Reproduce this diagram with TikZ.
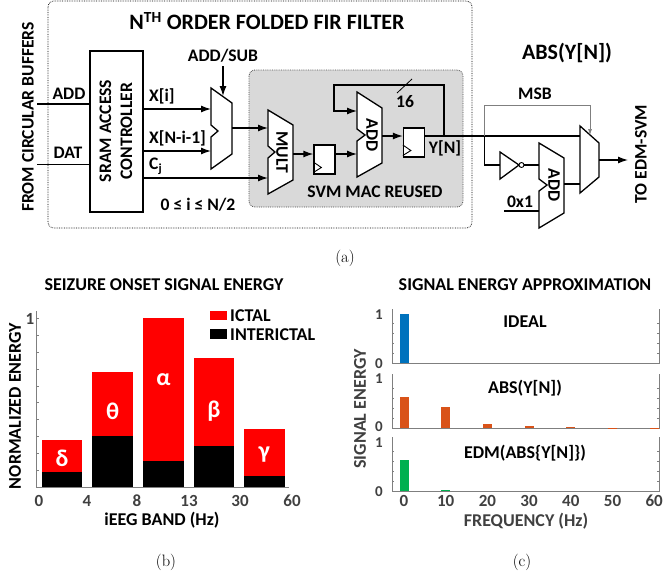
\documentclass[tikz,border=0pt]{standalone}
\usepackage{fontspec}
\usetikzlibrary{arrows.meta}
\newfontfamily\labelfont{Carlito}
\definecolor{axisgray}{HTML}{7F7F7F}
\definecolor{ticktext}{HTML}{404040}
\definecolor{idealblue}{HTML}{0072BD}
\definecolor{absorange}{HTML}{D95319}
\definecolor{edmgreen}{HTML}{00B050}
\begin{document}
\begin{tikzpicture}[
    x=1pt, y=-1pt,
    lbl/.style={font=\labelfont\bfseries\fontsize{17.6}{18}\selectfont, inner sep=0pt, align=center},
    head/.style={font=\labelfont\bfseries\fontsize{22}{23}\selectfont, inner sep=0pt},
    plothead/.style={font=\labelfont\bfseries\fontsize{18}{18}\selectfont, inner sep=0pt},
    ticklbl/.style={font=\labelfont\bfseries\fontsize{17}{17}\selectfont, inner sep=0pt, text=ticktext},
    ytick/.style={font=\labelfont\bfseries\fontsize{15}{15}\selectfont, inner sep=0pt, text=ticktext},
    caption/.style={font=\fontsize{16.5}{17}\selectfont, inner sep=0pt},
    wire/.style={line width=1.3pt},
    sig/.style={line width=1.3pt, -{Latex[length=10pt,width=7pt]}},
    msbwire/.style={line width=0.7pt, draw=axisgray},
    alu/.style={line width=1.3pt, fill=white, line join=miter},
    regbox/.style={draw, line width=1.3pt, fill=white, minimum width=21pt, inner sep=0pt}
]
    \useasboundingbox (0,0) rectangle (663,576);

    % filter boxes
    \draw[densely dotted, line width=0.7pt, rounded corners=6pt] (48,1) rectangle (472,228);
    \draw[densely dotted, line width=0.8pt, draw=black!70, fill=black!15, rounded corners=6pt] (249,70) rectangle (463,207);

    \node[head] (FILTER) at (267,21) {N\textsuperscript{TH} ORDER FOLDED FIR FILTER};
    \node[head] (ABSHEAD) at (567,53) {ABS(Y[N])};
    \node[lbl, rotate=90] (BUFFERS) at (28,117) {FROM CIRCULAR BUFFERS};

    % sram controller
    \node[draw, line width=1.3pt, minimum width=53pt, minimum height=161pt, inner sep=0pt] (SRAM) at (116.5,131.5) {};
    \node[lbl, rotate=90] (SRAMTXT) at (116,131) {SRAM ACCESS\\[3pt]CONTROLLER};
    \coordinate (INA) at (37,104);
    \coordinate (IND) at (37,164.5);
    \draw[wire] (INA) -- (SRAM.west |- INA);
    \draw[wire] (IND) -- (SRAM.west |- IND);
    \node[lbl] (ADDIN) at (69,94) {ADD};
    \node[lbl] (DATIN) at (68,153) {DAT};

    % add/sub mux
    \draw[alu] (211,88) -- (232,103) -- (232,154) -- (211,169) -- (211,137) -- (218,131) -- (211,125) -- cycle;
    \coordinate (MUXA) at (211,109);
    \coordinate (MUXB) at (211,151);
    \coordinate (MUXS) at (223,96);
    \coordinate (MUXO) at (232,128);
    \node[lbl] (ADDSUB) at (223,56) {ADD/SUB};
    \draw[sig] (ADDSUB) ++(0,10) -- (MUXS);
    \draw[sig] (SRAM.east |- MUXA) -- (MUXA);
    \draw[sig] (SRAM.east |- MUXB) -- (MUXB);
    \node[lbl, anchor=west] (XI) at (149,96) {X[i]};
    \node[lbl, anchor=west] (XNI) at (149,138) {X[N-i-1]};
    \node[lbl, anchor=west] (CJ) at (149,166) {C\textsubscript{j}};
    \node[lbl] (RANGE) at (198,205) {0 ≤ i ≤ N/2};

    % mult
    \draw[alu] (268,110) -- (293,125) -- (293,180) -- (268,194) -- (268,158) -- (275,152) -- (268,146) -- cycle;
    \coordinate (MULA) at (268,128);
    \coordinate (MULB) at (268,178);
    \coordinate (MULO) at (293,154);
    \node[lbl, rotate=-90] (MULT) at (282,152) {MULT};
    \draw[sig] (MUXO) -- (MULA);
    \draw[sig] (SRAM.east |- MULB) -- (MULB);

    % registers
    \node[regbox, minimum height=29pt] (REG1) at (324.5,159.5) {};
    \node[regbox, minimum height=29pt] (REG2) at (414,142.5) {};
    \foreach \r in {REG1,REG2}
        \draw[line width=0.9pt] ([shift={(0,2.5)}]\r.west) -- ([shift={(8,8)}]\r.west) -- ([shift={(0,13)}]\r.west);
    \draw[sig] (MULO) -- (REG1.west |- MULO);

    % accumulator
    \draw[alu] (357,92) -- (382,108) -- (382,163) -- (357,177) -- (357,141) -- (365,135) -- (357,129) -- cycle;
    \coordinate (ACCA) at (357,111);
    \coordinate (ACCB) at (357,154);
    \coordinate (ACCO) at (382,136);
    \node[lbl, rotate=-90] (ACC) at (372,135) {ADD};
    \draw[sig] (REG1.east |- ACCB) -- (ACCB);
    \draw[sig] (ACCO) -- (REG2.west |- ACCO);
    \coordinate (FBK) at (444,136);
    \draw[sig] (FBK) -- (444,85) -- (334,85) -- (334,111) -- (ACCA);
    \coordinate (SLASHA) at (397,93);
    \coordinate (SLASHB) at (412,79);
    \draw[line width=0.8pt] (SLASHA) -- (SLASHB);
    \node[lbl] (WIDTH) at (405,102) {16};
    \node[lbl] (YN) at (445,148) {Y[N]};
    \node[lbl] (MAC) at (375,192) {SVM MAC REUSED};

    % abs path
    \draw[alu] (580,126) -- (599,143) -- (599,177) -- (580,193) -- cycle;
    \coordinate (ABSA) at (580,136);
    \coordinate (ABSB) at (580,184);
    \coordinate (ABSO) at (599,160);
    \coordinate (ABSS) at (590,135);
    \coordinate (TAP) at (484.5,136);
    \coordinate (EDM) at (628,160);
    \draw[wire] (REG2.east |- ABSA) -- (ABSA);
    \draw[sig] (ABSO) -- (EDM);
    \draw[msbwire, -{Latex[length=6pt,width=4pt]}] (TAP) -- (484.5,105) -- (590,105) -- (ABSS);
    \node[lbl] (MSB) at (535,94) {MSB};
    \node[lbl, rotate=90] (TOEDM) at (641,154) {TO EDM-SVM};

    % inverter
    \draw[alu] (500,152) -- (519,165) -- (500,179) -- cycle;
    \node[draw, circle, line width=0.9pt, fill=white, minimum size=5pt, inner sep=0pt] (BUB) at (521.5,165) {};
    \coordinate (INV) at (500,165);
    \draw[wire] (TAP) -- (484.5,165) -- (INV);

    % abs adder
    \draw[alu] (539,143) -- (564,158) -- (564,213) -- (539,228) -- (539,191) -- (547,185) -- (539,179) -- cycle;
    \coordinate (INCA) at (539,165);
    \coordinate (INCB) at (539,211);
    \coordinate (INCO) at (564,184);
    \coordinate (ONE) at (504,211);
    \node[lbl, rotate=-90] (INC) at (554,185) {ADD};
    \draw[wire] (BUB) -- (INCA);
    \draw[wire] (ONE) -- (INCB);
    \draw[wire] (INCO) -- (ABSB);
    \node[lbl] (ONETXT) at (520,202) {0x1};

    \node[caption] (CAPA) at (345,258) {(a)};

    % seizure onset chart
    \node[plothead] (BHEAD) at (164,285) {SEIZURE ONSET SIGNAL ENERGY};
    \foreach \xa/\xb/\yr/\yk/\g/\gy in {41.7/82.3/440/472/δ/458,92.3/133/372.3/436/θ/411,143/183.7/318.3/461/α/380,193.7/234/358.3/446/β/411,244/284.7/429/476/γ/455} {
        \fill[red] (\xa,\yr) rectangle (\xb,487);
        \fill[black] (\xa,\yk) rectangle (\xb,487);
        \node[font=\labelfont\bfseries\fontsize{24}{24}\selectfont, text=white, inner sep=0pt] at ({(\xa+\xb)/2},\gy) {\g};
    }
    \draw[axisgray, line width=0.7pt] (36.7,311) -- (36.7,487) -- (289,487);
    \foreach \i in {0,...,10}
        \draw[axisgray, line width=0.5pt] (36.7,{487-\i*16.87}) -- (38.7,{487-\i*16.87});
    \foreach \x/\t in {39/0,87/4,137/8,189/13,240/30,292/60}
        \node[ticklbl] at (\x,501) {\t};
    \node[ticklbl] (BONE) at (30,319) {1};
    \node[plothead] (BX) at (162,520) {iEEG BAND (Hz)};
    \node[plothead, rotate=90] (BY) at (15,406) {NORMALIZED ENERGY};
    \fill[red] (210,311) rectangle (227,320);
    \fill[black] (210,329) rectangle (227,339);
    \node[plothead, anchor=west] (ICTAL) at (230,316) {ICTAL};
    \node[plothead, anchor=west] (INTER) at (230,335) {INTERICTAL};
    \node[caption] (CAPB) at (166,562) {(b)};

    % signal energy chart
    \node[plothead] (CHEAD) at (525,285) {SIGNAL ENERGY APPROXIMATION};
    \foreach \bot/\zy/\oy in {363/364/315,428/427/379,491/492/443} {
        \draw[axisgray, line width=0.6pt] (392,\bot-54) -- (392,\bot) -- (659,\bot) -- (659,\bot-54);
        \foreach \i in {1,...,4} {
            \draw[axisgray, line width=0.4pt] (392,{\bot-\i*10}) -- (394,{\bot-\i*10});
            \draw[axisgray, line width=0.4pt] (659,{\bot-\i*10}) -- (657,{\bot-\i*10});
        }
        \node[ytick] at (379,\zy) {0};
        \node[ytick] at (379,\oy) {1};
    }
    \fill[idealblue] (399.7,314) rectangle (408.7,363);
    \foreach \x/\yt in {404/397,445.7/407,487.4/424,529.1/426,570.8/427,612.5/427.5,654.2/427.5}
        \fill[absorange] ({\x-4.5},\yt) rectangle ({\x+4.5},428);
    \fill[edmgreen] (399.7,460) rectangle (408.7,491);
    \fill[edmgreen] (441.2,490) rectangle (450.2,491);
    \node[plothead] (IDEAL) at (525,322) {IDEAL};
    \node[plothead] (ABSY) at (525,388) {ABS(Y[N])};
    \node[plothead] (EDMY) at (525,453) {EDM(ABS\{Y[N]\})};
    \foreach \x/\t in {404/0,445.7/10,487.4/20,529.1/30,570.8/40,612.5/50,654.2/60}
        \node[ticklbl] at (\x,501) {\t};
    \node[plothead, text=ticktext] (CX) at (526,521) {FREQUENCY (Hz)};
    \node[plothead, text=ticktext, rotate=90] (CY) at (360,409) {SIGNAL ENERGY};
    \node[caption] (CAPC) at (522,562) {(c)};

\end{tikzpicture}
\end{document}
